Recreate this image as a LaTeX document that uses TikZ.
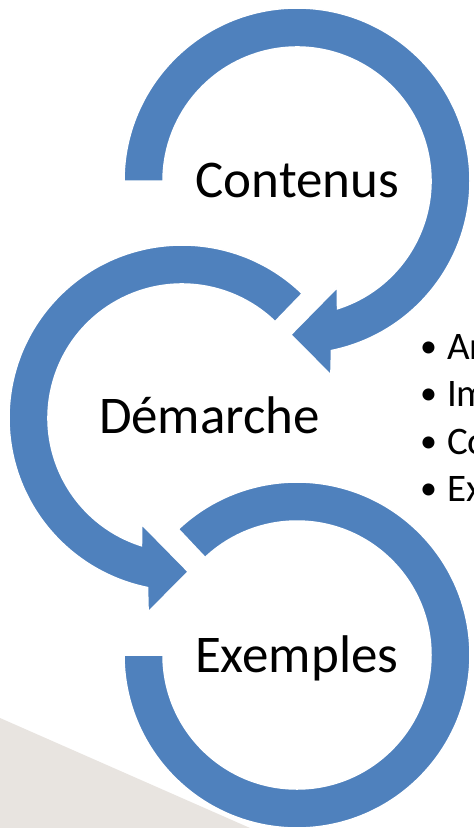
\documentclass[tikz,border=0pt]{standalone}
\usepackage{fontspec}
\setmainfont{Carlito}
\definecolor{ringblue}{HTML}{4F81BD}
\definecolor{bggray}{HTML}{E8E4E0}
\tikzset{
  ring/.style={fill=ringblue, draw=white, line width=1.5pt, line join=miter},
  bigtext/.style={anchor=base west, inner sep=0pt, outer sep=0pt, font=\fontsize{53}{53}\selectfont},
  bultext/.style={anchor=base west, inner sep=0pt, outer sep=0pt, font=\fontsize{39}{39}\selectfont},
  bulmark/.style={anchor=base west, inner sep=0pt, outer sep=0pt, font=\fontsize{34}{34}\selectfont}
}
\begin{document}
\begin{tikzpicture}[x=1pt,y=1pt]
\useasboundingbox (0,0) rectangle (474,-828);
\clip (0,0) rectangle (474,-828);
\fill[white] (0,0) rectangle (474,-828);
% grey corner
\fill[bggray] (0,-718) -- (250,-828) -- (0,-828) -- cycle;
% top ring (Contenus)
\begin{scope}[shift={(297,-181)}]
\path[ring] (180:173) arc[start angle=180, end angle=-78.5, radius=173]
  -- (-80.1:197) -- (-92.3:153.8) -- (-69.2:113.7) -- (-72.4:134)
  arc[start angle=-72.4, end angle=180, radius=134] -- cycle;
\end{scope}
% middle ring (Demarche)
\begin{scope}[shift={(182,-418)}]
\path[ring] (46:173) arc[start angle=46, end angle=258.5, radius=173]
  -- (260.1:197) -- (272.3:153.8) -- (249.2:113.7) -- (252.4:134)
  arc[start angle=252.4, end angle=46, radius=134] -- cycle;
\end{scope}
% bottom ring (Exemples)
\begin{scope}[shift={(297,-655)}]
\path[ring] (133.3:173) arc[start angle=133.3, end angle=-180, radius=173]
  -- (-180:134) arc[start angle=-180, end angle=133.3, radius=134] -- cycle;
\end{scope}
% labels
\node[bigtext] (contenus) at (195.5,-197) {Contenus};
\node[bigtext] (demarche) at (99,-433) {Démarche};
\node[bigtext] (exemples) at (195,-672) {Exemples};
% bullets
\node[bulmark] (b1) at (420,-357) {\textbullet};
\node[bultext] (t1) at (447,-359) {An};
\node[bulmark] (b2) at (420,-404) {\textbullet};
\node[bultext] (t2) at (447,-406) {Im};
\node[bulmark] (b3) at (420,-452) {\textbullet};
\node[bultext] (t3) at (447,-454) {Co};
\node[bulmark] (b4) at (420,-499) {\textbullet};
\node[bultext] (t4) at (447,-501) {Ex};
\end{tikzpicture}
\end{document}
